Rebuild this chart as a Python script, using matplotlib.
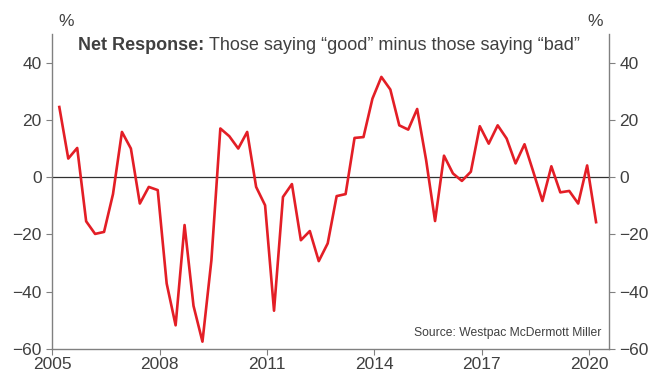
import matplotlib
matplotlib.use("Agg")
import matplotlib.pyplot as plt
import numpy as np

plt.rcParams['font.family'] = ['Liberation Sans', 'DejaVu Sans']

# quarterly net response, 2005 Q1 .. 2020 Q1
first_year = 2005
net_response = [
    24.5, 6.5, 10.2, -15.4, -19.8, -19.1, -5.9, 15.8,
    10.0, -9.2, -3.4, -4.5, -37.1, -51.7, -16.7, -44.9,
    -57.4, -29.0, 17.0, 14.3, 10.0, 15.8, -3.4, -9.8,
    -46.6, -6.9, -2.4, -22.0, -18.8, -29.3, -23.1, -6.6,
    -5.9, 13.7, 14.0, 27.4, 35.0, 30.6, 18.1, 16.6,
    23.8, 6.0, -15.3, 7.5, 1.3, -1.3, 1.9, 17.8,
    11.7, 18.1, 13.5, 4.8, 11.5, 1.7, -8.3, 3.8,
    -5.3, -4.8, -9.2, 4.1, -15.7,
]
x_ticks = [2005, 2008, 2011, 2014, 2017, 2020]
y_ticks = [-60, -40, -20, 0, 20, 40]

t = first_year + 0.2 + 0.25 * np.arange(len(net_response))

grey = '#808080'
text_col = '#404040'

fig = plt.figure(figsize=(6.52, 3.77), dpi=100)
ax = fig.add_axes([0.080, 0.074, 0.854, 0.836])

ax.axhline(0, color='#303030', lw=0.9, zorder=1)
ax.plot(t, net_response, color='#e31e26', lw=1.9, zorder=2)

ax.set_xlim(2005, 2020.56)
ax.set_ylim(-60, 50)
ax.set_xticks(x_ticks)
ax.set_yticks(y_ticks)

ax.spines['top'].set_visible(False)
for s in ['left', 'right', 'bottom']:
    ax.spines[s].set_color(grey)
    ax.spines[s].set_linewidth(1.0)

ax.tick_params(axis='both', direction='out', length=4, color=grey,
               labelsize=12.5, labelcolor=text_col)
ax.tick_params(axis='y', right=True, labelright=True)
ax.tick_params(axis='x', pad=2)

# % unit labels above each axis
fig.text(66 / 652, 1 - 22 / 377, '%', ha='center', va='center',
         fontsize=12.5, color=text_col)
fig.text(595 / 652, 1 - 22 / 377, '%', ha='center', va='center',
         fontsize=12.5, color=text_col)

fig.text(78 / 652, 1 - 45 / 377, 'Net Response:', ha='left', va='center',
         fontsize=13, fontweight='bold', color=text_col)
fig.text(209 / 652, 1 - 45 / 377, 'Those saying \u201cgood\u201d minus those saying \u201cbad\u201d',
         ha='left', va='center', fontsize=13, color=text_col)

fig.text(601 / 652, 1 - 333 / 377, 'Source: Westpac McDermott Miller',
         ha='right', va='center', fontsize=8.75, color=text_col)

fig.savefig('out.png', dpi=100)
